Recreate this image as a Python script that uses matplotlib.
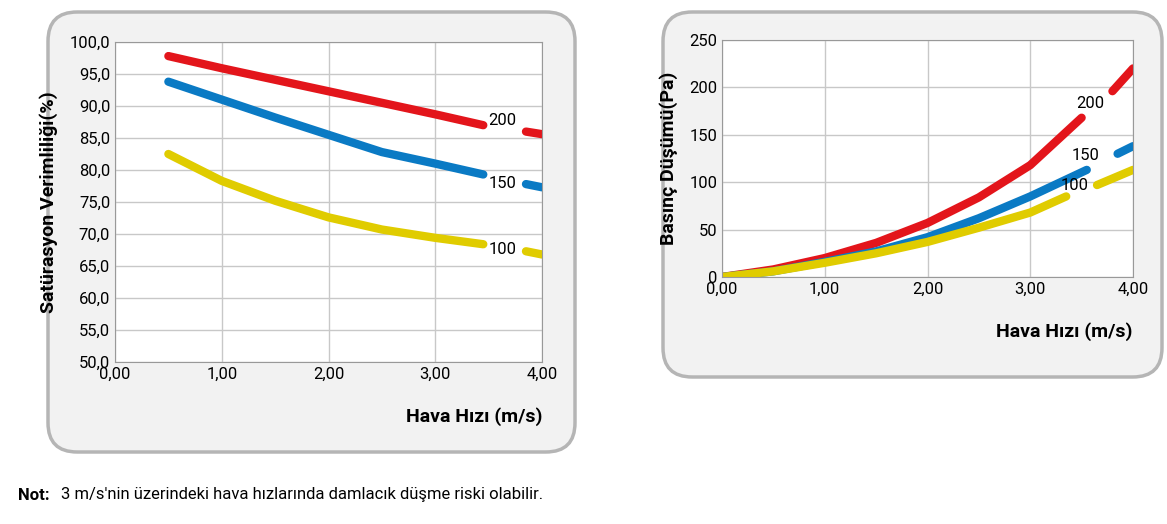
import matplotlib.pyplot as plt
from matplotlib.patches import FancyBboxPatch

# left chart: saturation efficiency
sat_x_main = [0.5, 1.0, 1.5, 2.0, 2.5, 3.0, 3.45]
sat_x_tail = [3.85, 4.0]
sat_200 = [97.8, 95.9, 94.1, 92.3, 90.5, 88.7, 87.0]
sat_200_tail = [86.0, 85.6]
sat_150 = [93.8, 91.0, 88.2, 85.5, 82.8, 81.0, 79.3]
sat_150_tail = [77.8, 77.3]
sat_100 = [82.5, 78.3, 75.2, 72.6, 70.7, 69.4, 68.4]
sat_100_tail = [67.3, 66.8]

# right chart: pressure drop
dp_x_200 = [0.0, 0.5, 1.0, 1.5, 2.0, 2.5, 3.0, 3.5]
dp_200 = [0, 8, 20, 36, 57, 84, 118, 168]
dp_x_200t = [3.8, 4.0]
dp_200t = [196, 220]
dp_x_150 = [0.0, 0.5, 1.0, 1.5, 2.0, 2.5, 3.0, 3.55]
dp_150 = [0, 6, 16, 27, 42, 62, 85, 113]
dp_x_150t = [3.85, 4.0]
dp_150t = [130, 138]
dp_x_100 = [0.0, 0.5, 1.0, 1.5, 2.0, 2.5, 3.0, 3.35]
dp_100 = [0, 6, 15, 25, 37, 52, 68, 85]
dp_x_100t = [3.65, 4.0]
dp_100t = [97, 113]

RED, BLUE, YEL = '#e3151b', '#0a7ac4', '#e0cc00'
W, H = 1167, 524
plt.rcParams['font.family'] = 'Roboto'
fig = plt.figure(figsize=(W / 100, H / 100), dpi=100)

for (x0, y0, x1, y1) in [(48, 12, 575, 452), (663, 12, 1162, 377)]:
    fig.patches.append(FancyBboxPatch((x0 / W, 1 - y1 / H), (x1 - x0) / W, (y1 - y0) / H,
                                      boxstyle='round,pad=0,rounding_size=0.025',
                                      transform=fig.transFigure, fc='#f2f2f2',
                                      ec='#b5b5b5', lw=2.5, mutation_aspect=W / H,
                                      zorder=-5))

def style(ax):
    ax.set_zorder(2)
    ax.set_facecolor('white')
    ax.grid(color='#c8c8c8', lw=1)
    for s in ax.spines.values():
        s.set_color('#999999')
    ax.tick_params(length=0, labelsize=12)
    ax.set_xlim(0, 4)
    ax.set_xticks([0, 1, 2, 3, 4])
    ax.set_xticklabels(['0,00', '1,00', '2,00', '3,00', '4,00'])

ax1 = fig.add_axes([115 / W, 1 - 362 / H, 427 / W, 320 / H])
style(ax1)
ax1.set_ylim(50, 100)
ax1.set_yticks(range(50, 101, 5))
ax1.set_yticklabels([f'{v},0' for v in range(50, 101, 5)])
lw = 6
for m, t, c in [(sat_200, sat_200_tail, RED), (sat_150, sat_150_tail, BLUE), (sat_100, sat_100_tail, YEL)]:
    ax1.plot(sat_x_main, m, color=c, lw=lw, solid_capstyle='round')
    ax1.plot(sat_x_tail, t, color=c, lw=lw, solid_capstyle='round')
ax1.text(3.5, 87.7, '200', fontsize=12, va='center')
ax1.text(3.5, 77.9, '150', fontsize=12, va='center')
ax1.text(3.5, 67.6, '100', fontsize=12, va='center')
ax1.set_xlabel('Hava Hızı (m/s)', fontsize=14, fontweight='bold', loc='right', labelpad=18)
ax1.set_ylabel('Satürasyon Verimliliği(%)', fontsize=14, fontweight='bold', labelpad=8)

ax2 = fig.add_axes([722 / W, 1 - 277 / H, 411 / W, 237 / H])
style(ax2)
ax2.set_ylim(0, 250)
ax2.set_yticks(range(0, 251, 50))
for x, y, xt, yt, c in [(dp_x_200, dp_200, dp_x_200t, dp_200t, RED),
                        (dp_x_150, dp_150, dp_x_150t, dp_150t, BLUE),
                        (dp_x_100, dp_100, dp_x_100t, dp_100t, YEL)]:
    ax2.plot(x, y, color=c, lw=lw, solid_capstyle='round')
    ax2.plot(xt, yt, color=c, lw=lw, solid_capstyle='round')
ax2.text(3.45, 183, '200', fontsize=12, va='center')
ax2.text(3.4, 128, '150', fontsize=12, va='center')
ax2.text(3.3, 97, '100', fontsize=12, va='center')
ax2.set_xlabel('Hava Hızı (m/s)', fontsize=14, fontweight='bold', loc='right', labelpad=18)
ax2.set_ylabel('Basınç Düşümü(Pa)', fontsize=14, fontweight='bold', labelpad=8)

fig.text(18 / W, 1 - 495 / H, 'Not:', fontsize=12, fontweight='bold', va='center')
fig.text(61 / W, 1 - 495 / H, "3 m/s'nin üzerindeki hava hızlarında damlacık düşme riski olabilir.",
         fontsize=12, va='center')
fig.savefig('out.png', dpi=100)
